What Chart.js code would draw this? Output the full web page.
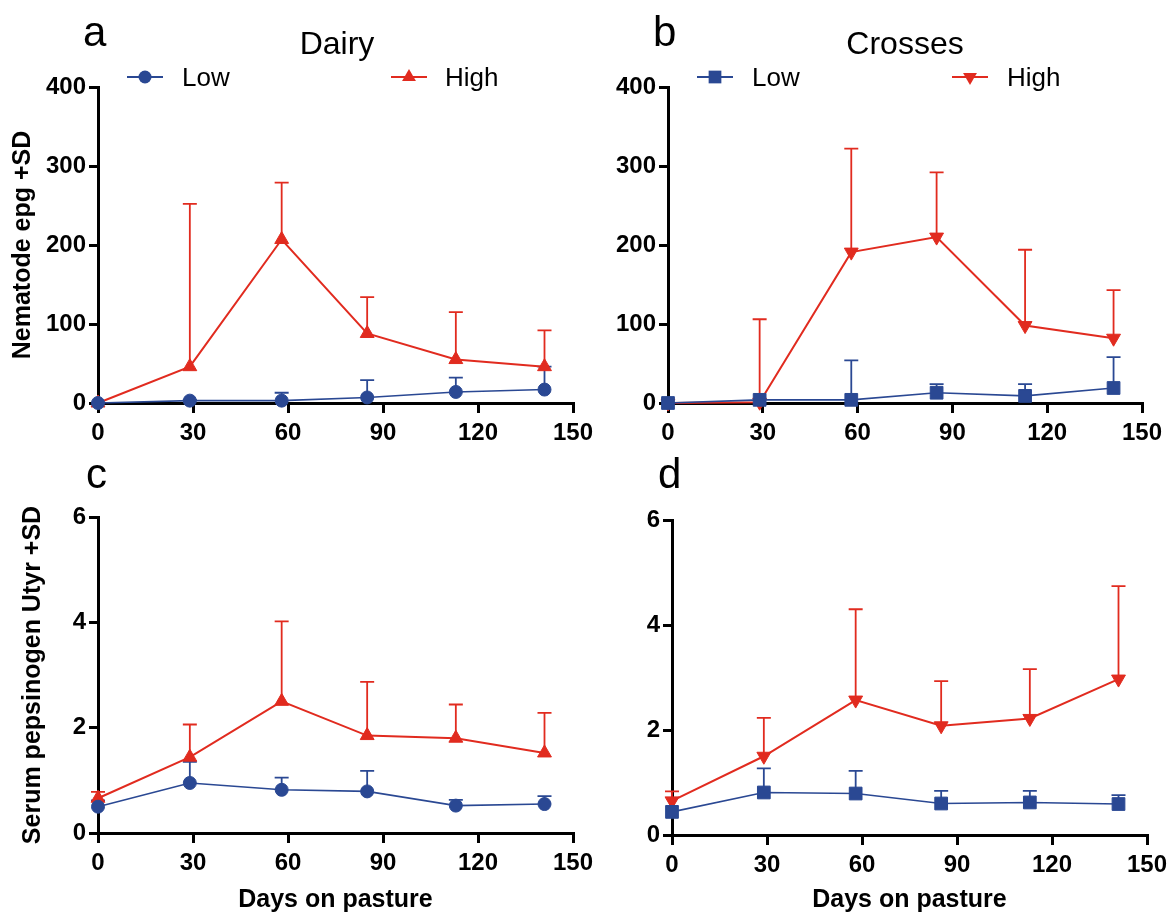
<!DOCTYPE html>
<html><head><meta charset="utf-8">
<script src="https://cdn.jsdelivr.net/npm/chart.js@4/dist/chart.umd.min.js"></script>
<style>
html,body{margin:0;padding:0;background:#fff;}
#wrap{position:relative;width:1167px;height:913px;overflow:hidden;background:#fff;}
#wrap canvas{position:absolute;left:0;top:0;}
</style></head><body>
<div id="wrap">
<canvas id="ca" width="1167" height="913"></canvas>
<canvas id="cb" width="1167" height="913"></canvas>
<canvas id="cc" width="1167" height="913"></canvas>
<canvas id="cd" width="1167" height="913"></canvas>
</div>
<script>
// ---- data ----
const days = [0, 29, 58, 85, 113, 141];
const xTicks = [0, 30, 60, 90, 120, 150];
const epgTicks = [0, 100, 200, 300, 400];
const pepTicks = [0, 2, 4, 6];
const seriesNames = ['Low', 'High'];

// (a) Dairy, nematode epg
const dairyEpgLow    = [0, 3, 3, 7, 14, 17];
const dairyEpgLowSD  = [0, 1, 10, 22, 18, 29];
const dairyEpgHigh   = [0, 46, 207, 88, 55, 46];
const dairyEpgHighSD = [0, 206, 72, 46, 60, 46];

// (b) Crosses, nematode epg
const crossEpgLow    = [0, 4, 4, 13, 9, 19];
const crossEpgLowSD  = [0, 0, 50, 11, 15, 39];
const crossEpgHigh   = [0, 1, 191, 210, 98, 82];
const crossEpgHighSD = [0, 105, 131, 82, 96, 61];

// (c) Dairy, serum pepsinogen
const dairyPepLow    = [0.50, 0.95, 0.82, 0.79, 0.52, 0.55];
const dairyPepLowSD  = [0.12, 0.40, 0.23, 0.39, 0.11, 0.15];
const dairyPepHigh   = [0.66, 1.44, 2.50, 1.85, 1.80, 1.52];
const dairyPepHighSD = [0.12, 0.62, 1.52, 1.02, 0.64, 0.76];

// (d) Crosses, serum pepsinogen
const crossPepLow    = [0.44, 0.81, 0.79, 0.60, 0.62, 0.59];
const crossPepLowSD  = [0, 0.46, 0.43, 0.24, 0.22, 0.17];
const crossPepHigh   = [0.65, 1.50, 2.57, 2.08, 2.22, 2.97];
const crossPepHighSD = [0.18, 0.73, 1.73, 0.85, 0.94, 1.77];

// ---- styling ----
const RED = '#e12b1f';
const BLUE = '#2a4893';
const FONT = "'Liberation Sans', Arial, Helvetica, sans-serif";
Chart.defaults.font.family = FONT;
Chart.defaults.color = '#000';

function drawMarker(ctx, style, r, rot, x, y, color) {
  ctx.save();
  ctx.fillStyle = color;
  ctx.beginPath();
  if (style === 'circle') {
    ctx.arc(x, y, r, 0, Math.PI * 2);
  } else if (style === 'rect') {
    const s = Math.SQRT1_2 * r;
    ctx.rect(x - s, y - s, 2 * s, 2 * s);
  } else if (style === 'triangle') {
    let a = rot * Math.PI / 180;
    ctx.moveTo(x + Math.sin(a) * r, y - Math.cos(a) * r);
    a += 2 * Math.PI / 3;
    ctx.lineTo(x + Math.sin(a) * r, y - Math.cos(a) * r);
    a += 2 * Math.PI / 3;
    ctx.lineTo(x + Math.sin(a) * r, y - Math.cos(a) * r);
    ctx.closePath();
  }
  ctx.fill();
  ctx.restore();
}

// upper (+SD) error bars
const errorBars = {
  id: 'errorBars',
  beforeDatasetsDraw(chart) {
    const ctx = chart.ctx;
    const xs = chart.scales.x, ys = chart.scales.y;
    ctx.save();
    chart.data.datasets.forEach((ds) => {
      if (!ds.sd) return;
      ctx.strokeStyle = ds.borderColor;
      ctx.lineWidth = 1.8;
      ds.data.forEach((pt, i) => {
        const sd = ds.sd[i];
        if (!sd) return;
        const px = xs.getPixelForValue(pt.x);
        const y0 = ys.getPixelForValue(pt.y);
        const y1 = ys.getPixelForValue(pt.y + sd);
        ctx.beginPath();
        ctx.moveTo(px, y0); ctx.lineTo(px, y1);
        ctx.moveTo(px - 7, y1); ctx.lineTo(px + 7, y1);
        ctx.stroke();
      });
    });
    ctx.restore();
  }
};

// panel letters, titles and legends
const decor = {
  id: 'decor',
  afterDraw(chart, args, opts) {
    const ctx = chart.ctx;
    ctx.save();
    ctx.textBaseline = 'alphabetic';
    ctx.fillStyle = '#000';
    (opts.texts || []).forEach(t => {
      ctx.font = t.font;
      ctx.textAlign = t.align || 'left';
      ctx.fillText(t.text, t.x, t.y);
    });
    (opts.legend || []).forEach(it => {
      const ds = chart.data.datasets[it.dataset];
      ctx.strokeStyle = ds.borderColor;
      ctx.lineWidth = 2;
      ctx.beginPath();
      ctx.moveTo(it.x - 18, it.y); ctx.lineTo(it.x + 18, it.y);
      ctx.stroke();
      drawMarker(ctx, ds.pointStyle, ds.pointRadius, ds.pointRotation || 0, it.x, it.y, ds.borderColor);
      ctx.font = "26px " + FONT;
      ctx.textAlign = 'left';
      ctx.fillStyle = '#000';
      ctx.fillText(ds.label, it.tx, it.ty);
    });
    ctx.restore();
  }
};

function series(label, vals, sd, color, width, style, radius, rot) {
  return {
    label: label,
    data: days.map((d, i) => ({ x: d, y: vals[i] })),
    sd: sd,
    borderColor: color,
    backgroundColor: color,
    borderWidth: width,
    pointStyle: style,
    pointRadius: radius,
    pointRotation: rot,
    pointBorderWidth: 1,
    pointBorderColor: color,
    pointBackgroundColor: color,
    tension: 0,
    clip: false
  };
}

function makePanel(id, p) {
  return new Chart(document.getElementById(id), {
    type: 'line',
    data: {
      datasets: [
        series(seriesNames[0], p.low, p.lowSD, BLUE, 1.6, p.lowStyle, p.lowRadius, 0),
        series(seriesNames[1], p.high, p.highSD, RED, 2, 'triangle', 8, p.highRot)
      ]
    },
    options: {
      responsive: false,
      animation: false,
      devicePixelRatio: 1,
      events: [],
      layout: { autoPadding: false, padding: p.pad },
      plugins: {
        legend: { display: false },
        tooltip: { enabled: false },
        decor: { texts: p.texts, legend: p.legend }
      },
      scales: {
        x: {
          type: 'linear', min: xTicks[0], max: xTicks[xTicks.length - 1],
          afterBuildTicks: s => { s.ticks = xTicks.map(v => ({ value: v })); },
          ticks: { font: { size: 24, weight: 'bold' }, color: '#000', padding: 6, maxRotation: 0, autoSkip: false },
          grid: { drawOnChartArea: false, drawTicks: true, tickLength: 10, tickWidth: 3, lineWidth: 3, tickColor: '#000', color: '#000' },
          border: { display: true, color: '#000', width: 3 },
          title: { display: !!p.xTitle, text: p.xTitle || '', color: '#000', font: { size: 25, weight: 'bold', lineHeight: 1 }, padding: { top: 0, bottom: 0 } },
          afterFit: s => { s.height = p.xh; s.paddingLeft = 0; s.paddingRight = 0; }
        },
        y: {
          type: 'linear', min: p.yTicks[0], max: p.yTicks[p.yTicks.length - 1],
          afterBuildTicks: s => { s.ticks = p.yTicks.map(v => ({ value: v })); },
          ticks: { font: { size: 24, weight: 'bold' }, color: '#000', padding: 3, autoSkip: false },
          grid: { drawOnChartArea: false, drawTicks: true, tickLength: 9, tickWidth: 3, lineWidth: 3, tickColor: '#000', color: '#000' },
          border: { display: true, color: '#000', width: 3 },
          title: { display: !!p.yTitle, text: p.yTitle || '', color: '#000', font: { size: 25, weight: 'bold' }, padding: { top: p.yTitlePad || 0, bottom: 0 } },
          afterFit: s => { s.width = 98; s.paddingTop = 0; s.paddingBottom = 0; }
        }
      }
    },
    plugins: [errorBars, decor]
  });
}

const W = 1167, H = 913;

makePanel('ca', {
  low: dairyEpgLow, lowSD: dairyEpgLowSD, high: dairyEpgHigh, highSD: dairyEpgHighSD,
  lowStyle: 'circle', lowRadius: 6.5, highRot: 0,
  yTicks: epgTicks, yTitle: 'Nematode epg +SD', yTitlePad: 8,
  pad: { left: 0, right: W - 573, top: 87, bottom: H - 403 - 50 }, xh: 50,
  texts: [
    { text: 'a', x: 83, y: 46, font: '42px ' + FONT },
    { text: 'Dairy', x: 337, y: 54, font: '32px ' + FONT, align: 'center' }
  ],
  legend: [
    { dataset: 0, x: 145, y: 77, tx: 182, ty: 86 },
    { dataset: 1, x: 409, y: 77, tx: 445, ty: 86 }
  ]
});

makePanel('cb', {
  low: crossEpgLow, lowSD: crossEpgLowSD, high: crossEpgHigh, highSD: crossEpgHighSD,
  lowStyle: 'rect', lowRadius: 9, highRot: 180,
  yTicks: epgTicks, yTitle: '',
  pad: { left: 668 - 98, right: W - 1142, top: 87, bottom: H - 403 - 50 }, xh: 50,
  texts: [
    { text: 'b', x: 653, y: 46, font: '42px ' + FONT },
    { text: 'Crosses', x: 905, y: 54, font: '32px ' + FONT, align: 'center' }
  ],
  legend: [
    { dataset: 0, x: 715, y: 77, tx: 752, ty: 86 },
    { dataset: 1, x: 970, y: 77, tx: 1007, ty: 86 }
  ]
});

makePanel('cc', {
  low: dairyPepLow, lowSD: dairyPepLowSD, high: dairyPepHigh, highSD: dairyPepHighSD,
  lowStyle: 'circle', lowRadius: 6.5, highRot: 0,
  yTicks: pepTicks, yTitle: 'Serum pepsinogen Utyr +SD', yTitlePad: 18,
  xTitle: 'Days on pasture',
  pad: { left: 0, right: W - 573, top: 517, bottom: 0 }, xh: H - 833,
  texts: [
    { text: 'c', x: 86, y: 488, font: '42px ' + FONT }
  ],
  legend: []
});

makePanel('cd', {
  low: crossPepLow, lowSD: crossPepLowSD, high: crossPepHigh, highSD: crossPepHighSD,
  lowStyle: 'rect', lowRadius: 9, highRot: 180,
  yTicks: pepTicks, yTitle: '',
  xTitle: 'Days on pasture',
  pad: { left: 672 - 98, right: W - 1147, top: 520, bottom: 0 }, xh: H - 835,
  texts: [
    { text: 'd', x: 658, y: 488, font: '42px ' + FONT }
  ],
  legend: []
});
</script>
</body></html>
